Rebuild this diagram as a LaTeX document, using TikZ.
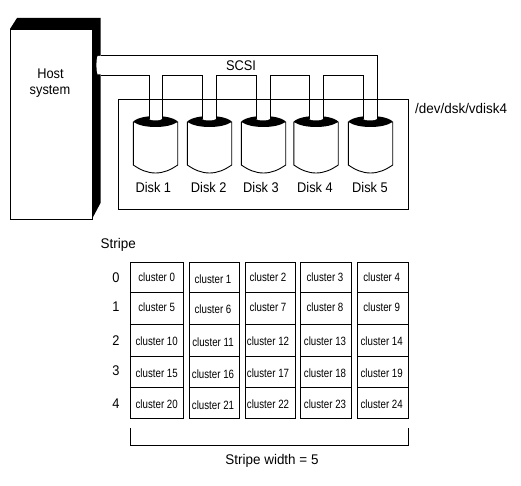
\documentclass[tikz,border=0pt]{standalone}
\usepackage{fontspec}
\setmainfont{Liberation Sans}
\newfontfamily\narrowA[FakeStretch=0.915]{Liberation Sans}
\newfontfamily\narrowB[FakeStretch=0.96]{Liberation Sans}
\newfontfamily\narrowC[FakeStretch=0.81]{Liberation Sans}
\tikzset{
  wire/.style={draw=black,line width=0.9pt},
  lab/.style={inner sep=0pt,font=\narrowA\fontsize{14}{16}\selectfont},
  big/.style={inner sep=0pt,font=\narrowB\fontsize{14}{16}\selectfont},
  clab/.style={inner sep=0pt,font=\narrowC\fontsize{12}{14}\selectfont},
}
\begin{document}
\begin{tikzpicture}[x=1pt,y=-1pt]
\useasboundingbox (0,0) rectangle (521,486);
% host
\fill[black] (10,29) -- (17,18) -- (100.5,18) -- (100.5,203) -- (92,219) -- cycle;
\draw[wire,fill=white] (10,29) rectangle (92,219);
\node[lab] (host1) at (50.5,74) {Host};
\node[lab] (host2) at (50,91) {system};
% disks
\foreach \cx/\n/\tx in {155.5/1/153.3,209.5/2/208.7,263.5/3/261,316/4/315,370.5/5/370}{
  \draw[wire,fill=white] (\cx-22.2,122) -- (\cx-22.2,165) .. controls (\cx-15,170) and (\cx-8,173) .. (\cx,173)
     .. controls (\cx+8,173) and (\cx+15,170) .. (\cx+22.2,165) -- (\cx+22.2,122) -- cycle;
  \fill[black] (\cx-22.2,121.5) .. controls (\cx-18,117.5) and (\cx-8,116) .. (\cx,116)
     .. controls (\cx+8,116) and (\cx+18,117.5) .. (\cx+22.2,121.5)
     .. controls (\cx+18,125.5) and (\cx+8,127) .. (\cx,127)
     .. controls (\cx-8,127) and (\cx-18,125.5) .. (\cx-22.2,121.5) -- cycle;
  \node[lab] (disk\n) at (\tx,187) {Disk \n};
}
% SCSI bus: white body, then its outline
\fill[white] (97.5,56) .. controls (96,60) and (96,70) .. (97.5,74.5) -- (149,74.5) -- (149,119)
  .. controls (151,121) and (160,121) .. (162,119) -- (162,74.5) -- (202,74.5) -- (202,119)
  .. controls (204,121) and (214,121) .. (216,119) -- (216,74.5) -- (256,74.5) -- (256,119)
  .. controls (258,121) and (268,121) .. (270,119) -- (270,74.5) -- (309,74.5) -- (309,119)
  .. controls (311,121) and (321,121) .. (323,119) -- (323,74.5) -- (363,74.5) -- (363,119)
  .. controls (365,121) and (375,121) .. (377,119) -- (377,56) -- cycle;
\draw[wire] (100.5,55) -- (377,55) -- (377,119);
\draw[wire] (100.5,75) -- (149,75) -- (149,119);
\draw[wire] (162,119) -- (162,75) -- (202,75) -- (202,119);
\draw[wire] (216,119) -- (216,75) -- (256,75) -- (256,119);
\draw[wire] (270,119) -- (270,75) -- (309,75) -- (309,119);
\draw[wire] (323,119) -- (323,75) -- (363,75) -- (363,119);
\node[lab] (scsi) at (241,66) {SCSI};
% array box
\draw[wire] (118.5,99) rectangle (408.5,209);
\node[big,anchor=west] (vdisk) at (415,108) {/dev/dsk/vdisk4};
% stripe table
\node[big,anchor=west] (stripe) at (100.5,245) {Stripe};
\foreach \y/\s in {277.7/0,306.7/1,340.7/2,371/3,404/4}{
  \node[lab] (row\s) at (116,\y) {\s};
}
\foreach \xa/\xb/\tx/\dy/\c in {130.5/183.5/156.7/0/0,189.5/239.5/213/1.5/1,245.5/295.5/268/0/2,300.5/351.5/325/0/3,357.5/408.5/381.7/0/4}{
  \foreach \ya/\yb/\ty/\r in {262/292.5/277.7/0,292.5/324.5/307.7/1,324.5/356.5/341/2,356.5/387.5/373/3,387.5/418.5/404/4}{
    \draw[wire] (\xa,\ya) rectangle (\xb,\yb);
    \pgfmathtruncatemacro{\num}{\r*5+\c}
    \node[clab] (cl\num) at (\tx,\ty+\dy) {cluster \num};
  }
}
% bracket
\coordinate (ba) at (130.5,428);
\coordinate (bb) at (130.5,445);
\coordinate (bc) at (408.5,445);
\coordinate (bd) at (408.5,428);
\draw[wire] (ba) -- (bb) -- (bc) -- (bd);
\node[big] (width) at (272,460.5) {Stripe width = 5};
\end{tikzpicture}
\end{document}
